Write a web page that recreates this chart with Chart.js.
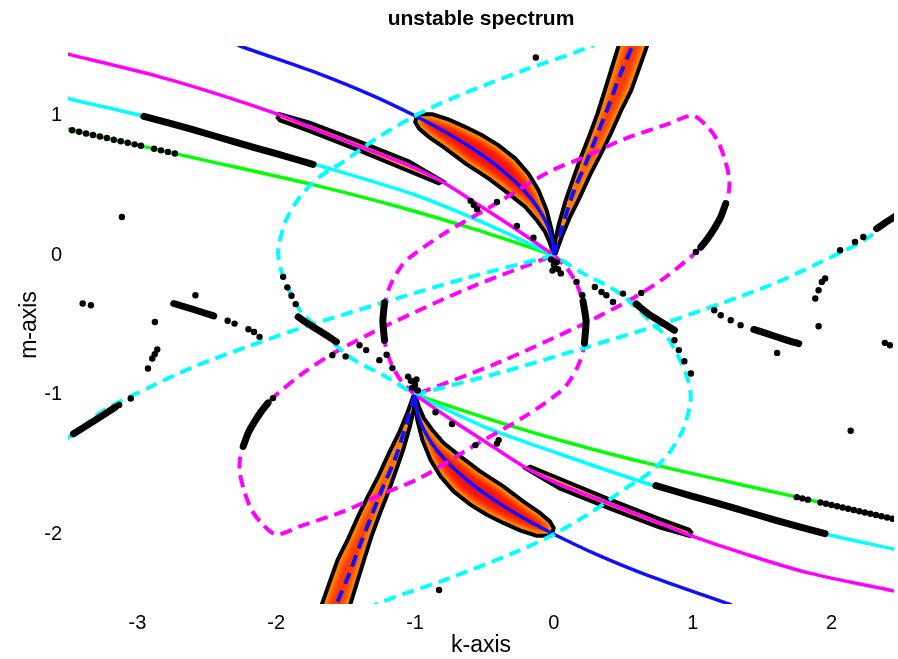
<!DOCTYPE html>
<html>
<head>
<meta charset="utf-8">
<script src="https://cdn.jsdelivr.net/npm/chart.js@4.4.1/dist/chart.umd.min.js"></script>
<style>
  body { margin: 0; background: #fff; }
  canvas { display: block; }
</style>
</head>
<body>
<canvas id="spectrum" width="898" height="659"></canvas>
<script>
const xTicks = [-3, -2, -1, 0, 1, 2];
const yTicks = [-2, -1, 0, 1];

// solid curves, [k, m]
const blueUpper = [[-2.30, 1.52], [-2.26, 1.5], [-1.69, 1.3], [-1.31, 1.146], [-1.0, 1.0], [-0.81, 0.9], [-0.64, 0.8], [-0.49, 0.7], [-0.36, 0.6], [-0.25, 0.5], [-0.16, 0.4], [-0.09, 0.3], [-0.04, 0.2], [-0.01, 0.1], [0, 0]];
const blueLower = [[-1, -1], [-0.99, -1.1], [-0.96, -1.2], [-0.91, -1.3], [-0.84, -1.4], [-0.75, -1.5], [-0.64, -1.6], [-0.51, -1.7], [-0.36, -1.8], [-0.19, -1.9], [0, -2], [0.31, -2.146], [0.69, -2.3], [1.26, -2.5], [1.30, -2.52]];
const magentaUpper = [[-3.55, 1.45], [-3.466, 1.433], [-2.833, 1.277], [-2.355, 1.134], [-1.986, 1.01], [-1.76, 0.92], [-1.4, 0.78], [-1.04, 0.64], [-0.81, 0.53], [-0.565, 0.375], [-0.278, 0.19], [0, 0]];
const magentaLower = [[-1, -1], [-0.722, -1.19], [-0.435, -1.375], [-0.19, -1.53], [0.04, -1.64], [0.4, -1.78], [0.76, -1.92], [0.986, -2.01], [1.355, -2.134], [1.833, -2.277], [2.466, -2.41], [2.55, -2.43]];
const cyanUpper = [[-3.55, 1.14], [-3.466, 1.115], [-2.953, 0.996], [-2.3, 0.813], [-1.699, 0.645], [-0.994, 0.43], [-0.5, 0.23], [0, 0]];
const cyanLower = [[-1, -1], [-0.5, -1.23], [0, -1.41], [0.699, -1.645], [1.3, -1.813], [1.953, -1.996], [2.466, -2.11], [2.55, -2.13]];
const greenUpper = [[-3.55, 0.92], [-3.466, 0.895], [-2.6, 0.7], [-1.687, 0.494], [-1.114, 0.346], [-0.55, 0.18], [0, 0]];
const greenLower = [[-1, -1], [-0.45, -1.18], [0.114, -1.346], [0.687, -1.494], [1.6, -1.7], [2.466, -1.895], [2.55, -1.92]];

// dashed curves
const blueDashUpper = [[0, 0], [0.06, 0.2], [0.14, 0.45], [0.23, 0.66], [0.31, 0.86], [0.39, 1.06], [0.48, 1.3], [0.565, 1.5], [0.59, 1.58]];
const blueDashLower = [[-1, -1], [-1.06, -1.2], [-1.14, -1.45], [-1.23, -1.66], [-1.31, -1.86], [-1.39, -2.06], [-1.48, -2.3], [-1.565, -2.5], [-1.59, -2.58]];
const cyanLoopUpper = [[0.32, 1.56], [0.283, 1.504], [-0.22, 1.325], [-0.72, 1.13], [-1.0, 1.0], [-1.28, 0.836], [-1.52, 0.668], [-1.69, 0.56], [-1.83, 0.418], [-1.93, 0.25], [-1.975, 0.1], [-1.986, 0.0], [-1.95, -0.155], [-1.83, -0.394], [-1.735, -0.489], [-1.472, -0.728], [-1.209, -0.872], [-1.0, -1.0]];
const cyanLoopLower = [[-1.32, -2.56], [-1.283, -2.504], [-0.78, -2.325], [-0.28, -2.13], [0, -2], [0.28, -1.836], [0.52, -1.668], [0.69, -1.56], [0.83, -1.418], [0.93, -1.25], [0.975, -1.1], [0.986, -1.0], [0.95, -0.845], [0.83, -0.606], [0.735, -0.511], [0.472, -0.272], [0.209, -0.128], [0, 0]];
const cyanDashWest = [[0, 0], [-0.636, -0.165], [-1.198, -0.33], [-1.759, -0.501], [-2.212, -0.657], [-2.595, -0.8], [-2.905, -0.943], [-3.239, -1.11], [-3.454, -1.277], [-3.55, -1.34]];
const cyanDashEast = [[-1, -1], [-0.364, -0.835], [0.198, -0.67], [0.759, -0.499], [1.212, -0.343], [1.595, -0.2], [1.905, -0.057], [2.239, 0.11], [2.454, 0.277], [2.55, 0.34]];
const magentaRingUpper = [[-1, -1], [-1.1, -0.9], [-1.17, -0.78], [-1.215, -0.64], [-1.232, -0.5], [-1.22, -0.36], [-1.18, -0.22], [-1.1, -0.08], [-1.03, -0.01], [-0.8, 0.15], [-0.4, 0.38], [-0.04, 0.595], [0.234, 0.71], [0.5, 0.83], [0.82, 0.94], [1.0, 1.0], [1.107, 0.919], [1.178, 0.824], [1.226, 0.704], [1.262, 0.561], [1.262, 0.466], [1.238, 0.37], [1.155, 0.191], [1.059, 0.059], [1.0, 0.0], [0.8, -0.16], [0.567, -0.31], [0.319, -0.44], [0.2, -0.5], [-0.4, -0.77], [-1, -1]];
const magentaRingLower = [[0, 0], [0.1, -0.1], [0.17, -0.22], [0.215, -0.36], [0.232, -0.5], [0.22, -0.64], [0.18, -0.78], [0.1, -0.92], [0.03, -0.99], [-0.2, -1.15], [-0.6, -1.38], [-0.96, -1.595], [-1.234, -1.71], [-1.5, -1.83], [-1.82, -1.94], [-2.0, -2.0], [-2.107, -1.919], [-2.178, -1.824], [-2.226, -1.704], [-2.262, -1.561], [-2.262, -1.466], [-2.238, -1.37], [-2.155, -1.191], [-2.059, -1.059], [-2.0, -1.0], [-1.8, -0.84], [-1.567, -0.69], [-1.319, -0.56], [-1.2, -0.5], [-0.6, -0.23], [0, 0]];

// unstable regions (outlines)
const regionUpper = [[-0.983, 1.010], [-0.875, 1.010], [-0.756, 0.972], [-0.636, 0.919], [-0.517, 0.860], [-0.398, 0.788], [-0.278, 0.693], [-0.183, 0.585], [-0.111, 0.466], [-0.052, 0.322], [-0.016, 0.179], [0.004, 0.059], [0, 0], [-0.027, 0.084], [-0.063, 0.167], [-0.123, 0.251], [-0.206, 0.346], [-0.326, 0.442], [-0.469, 0.549], [-0.636, 0.657], [-0.779, 0.764], [-0.899, 0.847], [-0.971, 0.908], [-0.999, 0.955], [-0.983, 1.010]];
const regionLower = [[-0.017, -2.010], [-0.125, -2.010], [-0.244, -1.972], [-0.364, -1.919], [-0.483, -1.860], [-0.602, -1.788], [-0.722, -1.693], [-0.817, -1.585], [-0.889, -1.466], [-0.948, -1.322], [-0.984, -1.179], [-1.004, -1.059], [-1, -1], [-0.973, -1.084], [-0.937, -1.167], [-0.877, -1.251], [-0.794, -1.346], [-0.674, -1.442], [-0.531, -1.549], [-0.364, -1.657], [-0.221, -1.764], [-0.101, -1.847], [-0.029, -1.908], [-0.001, -1.955], [-0.017, -2.010]];
const spikeUpper = [[0, 0], [0.009, 0.107], [0.037, 0.227], [0.085, 0.394], [0.135, 0.537], [0.195, 0.704], [0.252, 0.848], [0.314, 1.015], [0.367, 1.182], [0.419, 1.349], [0.467, 1.504], [0.49, 1.6], [0.70, 1.6], [0.672, 1.504], [0.617, 1.349], [0.557, 1.182], [0.485, 1.039], [0.41, 0.872], [0.34, 0.728], [0.265, 0.585], [0.188, 0.418], [0.116, 0.274], [0.056, 0.131], [0.013, 0.012], [0, 0]];
const spikeLower = [[-1, -1], [-1.009, -1.107], [-1.037, -1.227], [-1.085, -1.394], [-1.135, -1.537], [-1.195, -1.704], [-1.252, -1.848], [-1.314, -2.015], [-1.367, -2.182], [-1.419, -2.349], [-1.467, -2.504], [-1.49, -2.6], [-1.70, -2.6], [-1.672, -2.504], [-1.617, -2.349], [-1.557, -2.182], [-1.485, -2.039], [-1.41, -1.872], [-1.34, -1.728], [-1.265, -1.585], [-1.188, -1.418], [-1.116, -1.274], [-1.056, -1.131], [-1.013, -1.012], [-1, -1]];
const sliverUpper = [[-1.997, 0.995], [-1.98, 1.012], [-1.759, 0.95], [-1.4, 0.815], [-1.042, 0.672], [-0.85, 0.56], [-0.8, 0.53], [-0.83, 0.515], [-1.042, 0.602], [-1.4, 0.75], [-1.759, 0.889], [-1.974, 0.968], [-1.997, 0.995]];
const sliverLower = [[0.997, -1.995], [0.98, -2.012], [0.759, -1.95], [0.4, -1.815], [0.042, -1.672], [-0.15, -1.56], [-0.2, -1.53], [-0.17, -1.515], [0.042, -1.602], [0.4, -1.75], [0.759, -1.889], [0.974, -1.968], [0.997, -1.995]];

// computed eigenvalue points: dense runs and single dots
const runs = [
  [[-2.953, 0.996], [-2.6, 0.9], [-2.3, 0.813], [-2.0, 0.728], [-1.735, 0.652]],
  [[0.735, -1.652], [1.0, -1.728], [1.3, -1.813], [1.6, -1.9], [1.953, -1.996]],
  [[-1.22, -0.34], [-1.232, -0.47], [-1.22, -0.61]],
  [[0.21, -0.33], [0.232, -0.47], [0.22, -0.63]],
  [[1.238, 0.37], [1.202, 0.274], [1.155, 0.191], [1.107, 0.119], [1.059, 0.059]],
  [[-2.238, -1.37], [-2.202, -1.274], [-2.155, -1.191], [-2.107, -1.119], [-2.059, -1.059]],
  [[-1.842, -0.442], [-1.78, -0.485], [-1.70, -0.535], [-1.62, -0.585], [-1.567, -0.621]],
  [[0.593, -0.35], [0.677, -0.418], [0.772, -0.478], [0.868, -0.537]],
  [[-2.738, -0.346], [-2.595, -0.389], [-2.45, -0.435]],
  [[1.44, -0.532], [1.53, -0.56], [1.62, -0.59], [1.70, -0.615], [1.764, -0.633]],
  [[2.325, 0.191], [2.39, 0.235], [2.46, 0.28]],
  [[-3.46, -1.28], [-3.3, -1.18], [-3.16, -1.09]]
];
const dots = [
  [-3.47, 0.896], [-3.42, 0.885], [-3.37, 0.873], [-3.32, 0.862], [-3.27, 0.851], [-3.22, 0.840], [-3.17, 0.828], [-3.12, 0.817], [-3.07, 0.806], [-3.02, 0.795], [-2.975, 0.785], [-2.88, 0.763], [-2.83, 0.752], [-2.78, 0.741], [-2.73, 0.729],
  [1.75, -1.734], [1.79, -1.743], [1.83, -1.752], [1.92, -1.772], [1.96, -1.781], [2.0, -1.79], [2.04, -1.799], [2.08, -1.808], [2.12, -1.817], [2.16, -1.826], [2.2, -1.835], [2.24, -1.844], [2.28, -1.853], [2.32, -1.862], [2.36, -1.871], [2.4, -1.88], [2.44, -1.889],
  [-3.112, 0.274], [2.138, -1.258], [-0.13, 1.418], [-0.827, -2.4], [-3.394, -0.346], [-3.335, -0.358], [2.384, -0.628], [2.42, -0.645], [-2.582, -0.287], [1.608, -0.7], [-2.874, -0.478], [1.907, -0.509],
  [-2.857, -0.676], [-2.875, -0.71], [-2.893, -0.74], [-2.924, -0.812], [1.883, -0.31], [1.907, -0.251], [1.93, -0.191], [1.954, -0.167],
  [-0.6, 0.39], [-0.577, 0.36], [-0.553, 0.33], [-0.41, 0.382], [-0.266, 0.21], [-0.147, 0.125],
  [-0.853, -1.125], [-0.734, -1.21], [-0.565, -1.361], [-0.41, -1.35], [-0.398, -1.325],
  [-0.02, -0.03], [0.0, -0.07], [0.03, -0.1], [0.05, -0.13], [-0.01, -0.11], [0.02, -0.05],
  [-0.98, -0.97], [-1.0, -0.93], [-1.03, -0.9], [-1.05, -0.87], [-0.99, -0.89], [-1.02, -0.95],
  [0.163, -0.191], [0.205, -0.287], [-1.163, -0.809], [-1.205, -0.713],
  [0.295, -0.227], [0.343, -0.263], [0.378, -0.287], [0.426, -0.335], [0.498, -0.275], [0.629, -0.27],
  [-1.4, -0.645], [-1.352, -0.68], [-1.257, -0.752], [-1.596, -0.716], [-1.5, -0.725],
  [1.155, -0.394], [1.202, -0.43], [1.274, -0.466], [1.345, -0.501],
  [-2.35, -0.47], [-2.3, -0.49], [-2.2, -0.53], [-2.16, -0.55], [-2.12, -0.585],
  [-1.95, -0.155], [-1.92, -0.23], [-1.89, -0.29], [-1.86, -0.35],
  [0.868, -0.609], [0.9, -0.68], [0.94, -0.76], [0.987, -0.848],
  [2.062, 0.036], [2.169, 0.095], [2.229, 0.131],
  [-3.048, -1.027], [-3.132, -1.074],
  [1.023, 0.024], [-2.023, -1.024]
];

const font = 'Liberation Sans, Arial, Helvetica, sans-serif';
const pts = arr => arr.map(([k, m]) => ({x: k, y: m}));

const line = (data, color, extra) => Object.assign({
  data: pts(data), showLine: true, borderColor: color, borderWidth: 3.5,
  pointRadius: 0, fill: false, tension: 0.3, order: 6
}, extra);
const dashed = (data, color) => line(data, color, {borderDash: [12, 7], borderWidth: 4, order: 5});

// heat-like fill for the unstable regions, drawn under the black outline
const hot = {core: '#a010d0', bands: [['#ff1400', 30], ['#ff4800', 16], ['#ff8a00', 8], ['#ffc000', 3]]};
const thin = {core: '#ff3a00', bands: [['#ff6a00', 14], ['#ff9c00', 6]]};
const sliver = {core: '#ffa800', bands: []};
const region = (data, blob) => line(data, '#000', {borderWidth: 4, tension: 0, order: 10, blob: blob});

const regionFill = {
  id: 'regionFill',
  beforeDatasetDraw(chart, args) {
    const ds = chart.data.datasets[args.index];
    if (!ds.blob) return;
    const ctx = chart.ctx;
    const a = chart.chartArea;
    ctx.save();
    ctx.beginPath();
    ctx.rect(a.left, a.top, a.right - a.left, a.bottom - a.top);
    ctx.clip();
    ctx.beginPath();
    args.meta.data.forEach((p, i) => i ? ctx.lineTo(p.x, p.y) : ctx.moveTo(p.x, p.y));
    ctx.closePath();
    ctx.clip();
    ctx.fillStyle = ds.blob.core;
    ctx.fill();
    ctx.lineJoin = 'round';
    ctx.filter = 'blur(2px)';
    ds.blob.bands.forEach(([c, w]) => {
      ctx.strokeStyle = c;
      ctx.lineWidth = w;
      ctx.stroke();
    });
    ctx.restore();
  }
};

const datasets = [
  region(regionUpper, hot), region(regionLower, hot),
  region(spikeUpper, thin), region(spikeLower, thin),
  region(sliverUpper, sliver), region(sliverLower, sliver),
  line(blueUpper, '#1010ff'), line(blueLower, '#1010ff'),
  line(magentaUpper, '#ff00ff'), line(magentaLower, '#ff00ff'),
  line(cyanUpper, '#00ffff'), line(cyanLower, '#00ffff'),
  line(greenUpper, '#00ff00'), line(greenLower, '#00ff00'),
  dashed(blueDashUpper, '#1010ff'), dashed(blueDashLower, '#1010ff'),
  dashed(cyanLoopUpper, '#00ffff'), dashed(cyanLoopLower, '#00ffff'),
  dashed(cyanDashWest, '#00ffff'), dashed(cyanDashEast, '#00ffff'),
  dashed(magentaRingUpper, '#ff00ff'), dashed(magentaRingLower, '#ff00ff'),
  ...runs.map(r => line(r, '#000', {borderWidth: 7, borderCapStyle: 'round', tension: 0.2, order: 1})),
  {data: pts(dots), showLine: false, pointRadius: 3.2, pointBackgroundColor: '#000', pointBorderWidth: 0, order: 1}
];

new Chart(document.getElementById('spectrum'), {
  type: 'scatter',
  data: {datasets: datasets},
  plugins: [regionFill],
  options: {
    responsive: false,
    animation: false,
    layout: {padding: 0},
    plugins: {
      legend: {display: false},
      tooltip: {enabled: false},
      title: {
        display: true,
        text: 'unstable spectrum',
        fullSize: false,
        color: '#000',
        font: {family: font, size: 21, weight: 'bold'},
        padding: {top: 7, bottom: 13.8}
      }
    },
    scales: {
      x: {
        type: 'linear',
        min: -3.5,
        max: 2.45,
        afterBuildTicks: axis => { axis.ticks = xTicks.map(v => ({value: v})); },
        afterFit: axis => { axis.height = 55; },
        grid: {display: false, drawTicks: false},
        border: {display: false},
        ticks: {color: '#000', font: {family: font, size: 20}, padding: 7},
        title: {display: true, text: 'k-axis', color: '#000', font: {family: font, size: 23}, padding: {top: 0, bottom: 0}}
      },
      y: {
        type: 'linear',
        min: -2.5,
        max: 1.5,
        afterBuildTicks: axis => { axis.ticks = yTicks.map(v => ({value: v})); },
        afterFit: axis => { axis.width = 68; },
        grid: {display: false, drawTicks: false},
        border: {display: false},
        ticks: {color: '#000', font: {family: font, size: 20}, padding: 6},
        title: {display: true, text: 'm-axis', color: '#000', font: {family: font, size: 23}, padding: {top: 16, bottom: 0}}
      }
    }
  }
});
</script>
</body>
</html>
